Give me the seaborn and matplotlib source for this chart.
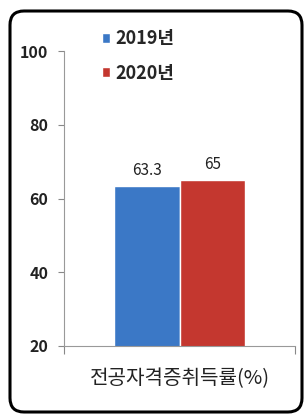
import matplotlib
matplotlib.use("Agg")
import matplotlib.pyplot as plt
import seaborn as sns
import pandas as pd
from matplotlib.patches import FancyBboxPatch

categories = ["전공자격증취득률(%)"]
years = ["2019년", "2020년"]
values_2019 = [63.3]
values_2020 = [65]
yticks = [20, 40, 60, 80, 100]

df = pd.DataFrame({
    "cat": categories * 2,
    "year": [years[0]] * len(categories) + [years[1]] * len(categories),
    "val": values_2019 + values_2020,
})

sns.set_theme(style="white")
plt.rcParams['font.family'] = ['Noto Sans CJK KR', 'DejaVu Sans']

fig = plt.figure(figsize=(3.06, 4.16), dpi=100)
ax = fig.add_axes([64/306, 1-346/416, (295-64)/306, (346-51)/416])

palette = {"2019년": "#3b78c6", "2020년": "#c4372f"}
sns.barplot(data=df, x="cat", y="val", hue="year", palette=palette,
            width=0.567, ax=ax, saturation=1, legend=True)

ax.set_xlim(-0.5, 0.5)
ax.set_ylim(20, 100)
ax.set_yticks(yticks)
ax.set_yticklabels([str(t) for t in yticks], fontsize=11.5, fontweight='bold', color='#222222')
ax.yaxis.set_ticks_position('left')
ax.tick_params(axis='y', which='major', direction='out', length=4.3, width=0.8,
               color='#888888', pad=7, left=True)
ax.set_xticks([-0.5, 0.5], minor=True)
ax.tick_params(axis='x', which='minor', direction='out', length=6, width=0.8,
               color='#888888', bottom=True)
ax.tick_params(axis='x', which='major', length=0, pad=16)
ax.set_xticklabels(categories, fontsize=14.5, color='#222222')
ax.set_xlabel("")
ax.set_ylabel("")
for s in ["top", "right"]:
    ax.spines[s].set_visible(False)
for s in ["left", "bottom"]:
    ax.spines[s].set_color("#999999")
    ax.spines[s].set_linewidth(0.8)

for cont in ax.containers:
    ax.bar_label(cont, labels=[f"{v:g}" for v in cont.datavalues], padding=5,
                 fontsize=11, fontweight='medium', color='#222222')

leg = ax.legend(loc="upper left", bbox_to_anchor=(86/306, 1-13/416),
                bbox_transform=fig.transFigure, frameon=False,
                prop={'weight': 'bold', 'size': 13, 'family': ['Noto Sans CJK KR', 'DejaVu Sans']},
                handlelength=0.45, handleheight=0.45, handletextpad=0.3,
                labelspacing=0.85)

border = FancyBboxPatch((10/100, 4/100), (302-10)/100, (412-11)/100,
                        boxstyle="round,pad=0,rounding_size=0.14",
                        transform=fig.dpi_scale_trans, fill=False,
                        edgecolor="black", linewidth=2.2, zorder=10)
fig.patches.append(border)

fig.savefig("out.png", dpi=100)
